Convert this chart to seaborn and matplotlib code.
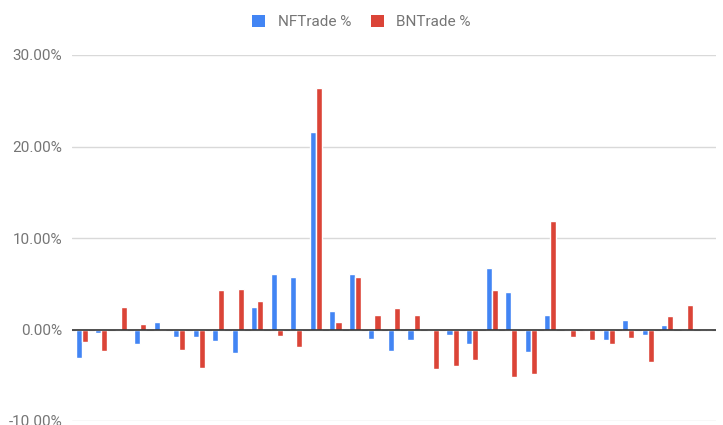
import pandas as pd
import seaborn as sns
import matplotlib.pyplot as plt
from matplotlib.patches import Patch
from matplotlib.ticker import FuncFormatter

# valori (procente)
groups = list(range(1, 34))
nf_trade = [-3.1, -0.35, 0.0, -1.6, 0.8, -0.8, -0.8, -1.3, -2.6, 2.5, 6.1, 5.7, 21.6,
            2.0, 6.1, -1.0, -2.4, -1.2, -0.05, -0.6, -1.6, 6.75, 4.15, -2.5, 1.6, 0.0,
            0.1, -1.1, 1.0, -0.55, 0.5, 0.0, 0.0]
bn_trade = [-1.4, -2.4, 2.5, 0.65, -0.05, -2.25, -4.2, 4.35, 4.45, 3.1, -0.7, -1.9, 26.4,
            0.8, 5.7, 1.6, 2.4, 1.6, -4.3, -4.0, -3.3, 4.3, -5.2, -4.9, 11.85, -0.8,
            -1.2, -1.6, -0.95, -3.5, 1.45, 2.65, -0.05]
series_names = ['NFTrade %', 'BNTrade %']
colors = ['#4285F4', '#DB4437']

df = pd.DataFrame({
    'group': groups * 2,
    'value': nf_trade + bn_trade,
    'series': [series_names[0]] * len(groups) + [series_names[1]] * len(groups),
})

sns.set_theme(style='white')
plt.rcParams['font.family'] = ['Roboto', 'DejaVu Sans']

fig = plt.figure(figsize=(7.23, 4.25), dpi=100)
ax = fig.add_axes([72 / 723, 4 / 425, 644 / 723, 366 / 425])

sns.barplot(data=df, x='group', y='value', hue='series', palette=colors,
            width=0.62, gap=0, ax=ax, legend=False, saturation=1)

ax.set_ylim(-10, 30)
ax.set_xlim(-0.5, len(groups) - 0.5)
ax.set_yticks([-10, 0, 10, 20, 30])
ax.yaxis.set_major_formatter(FuncFormatter(lambda v, p: f'{v:.2f}%'))
ax.tick_params(axis='y', length=0, pad=7, labelsize=11, labelcolor='#757575')
ax.set_xticks([])
ax.set_xlabel('')
ax.set_ylabel('')
for s in ax.spines.values():
    s.set_visible(False)
ax.grid(axis='y', color='#d9d9d9', lw=1)
ax.set_axisbelow(True)
ax.axhline(0, color='#333333', lw=1.2)

handles = [Patch(facecolor=c, edgecolor='none') for c in colors]
fig.legend(handles, series_names, loc='center', bbox_to_anchor=(0.5, 1 - 22 / 425),
           ncol=2, frameon=False, handlelength=0.85, handleheight=0.85,
           handletextpad=0.8, columnspacing=1.3, fontsize=11, labelcolor='#757575')

fig.savefig('out.png', dpi=100)
